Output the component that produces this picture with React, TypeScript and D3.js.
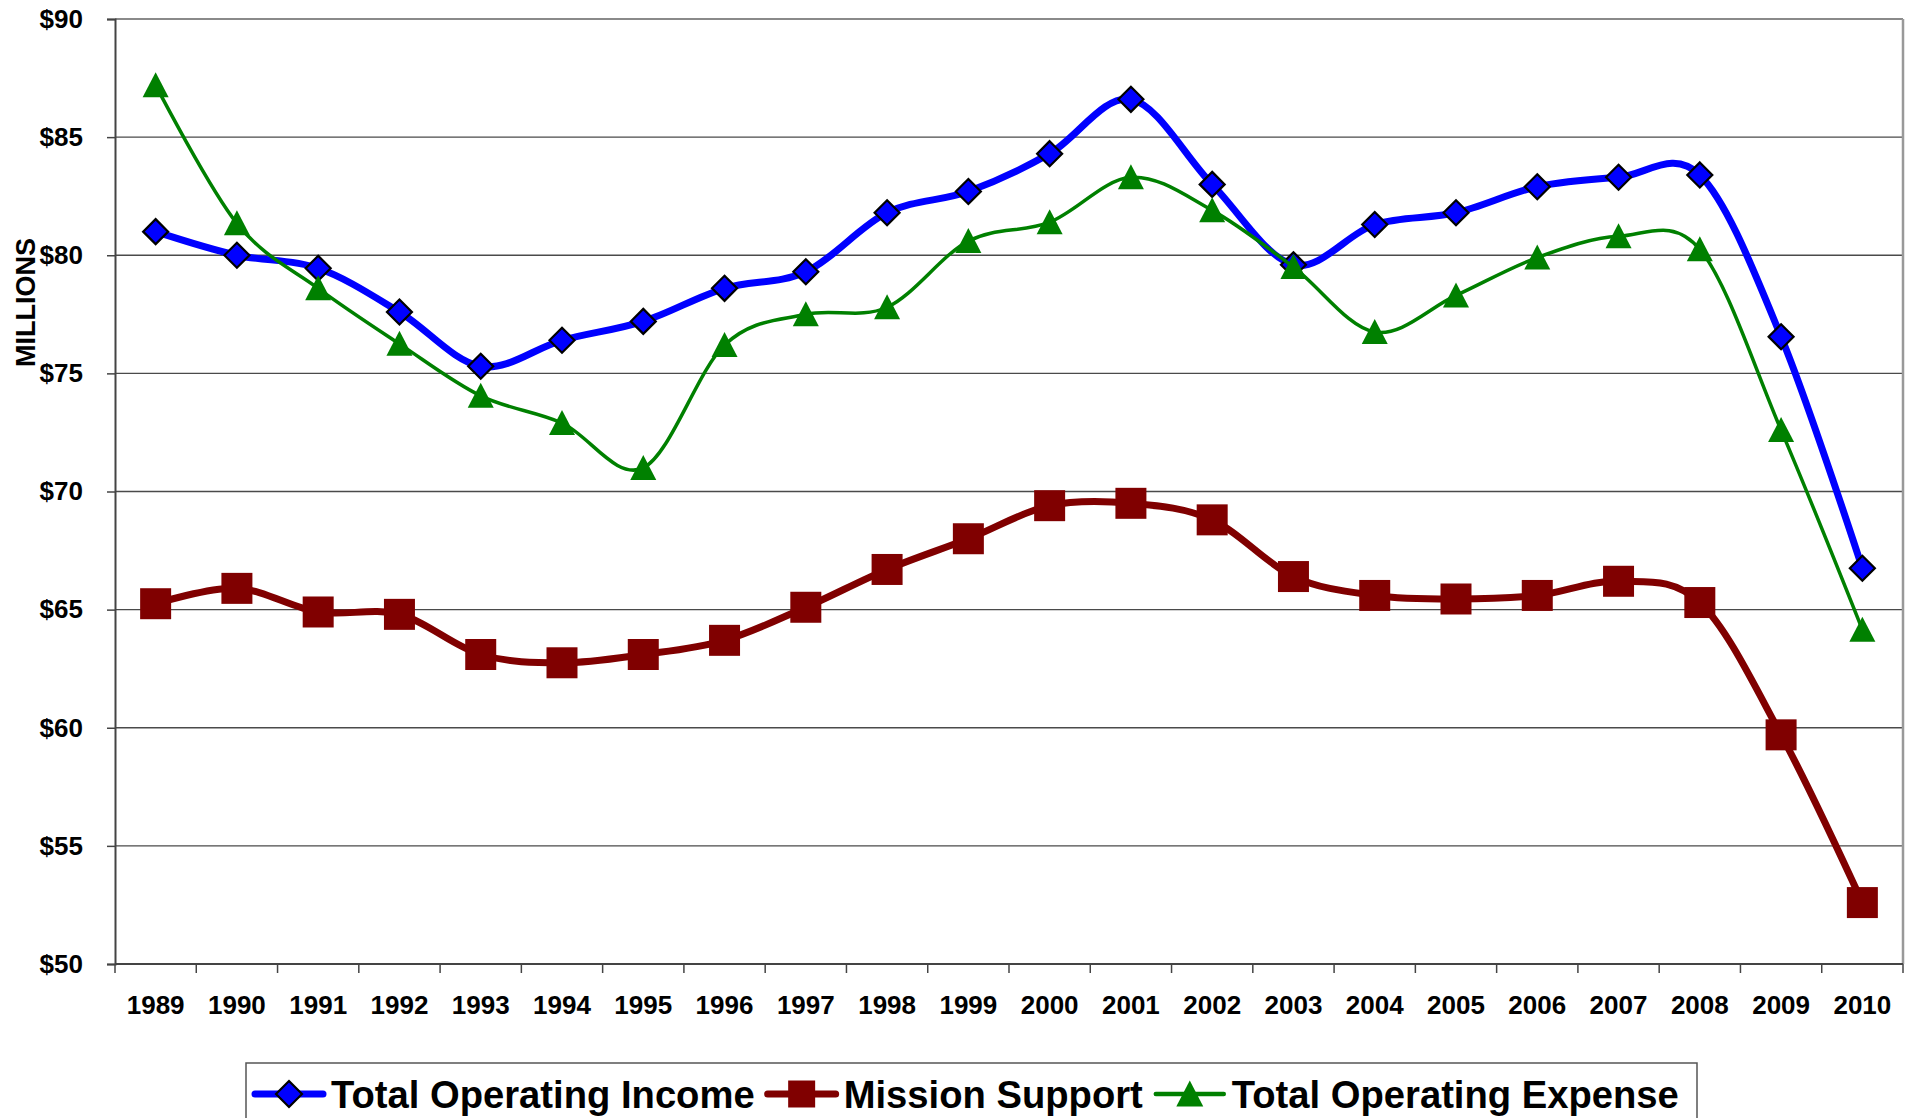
import React, { useEffect, useRef } from 'react'
import { select, scaleBand, scaleLinear, line, curveCardinal, axisBottom, axisLeft } from 'd3'

// chart values
const years = ['1989', '1990', '1991', '1992', '1993', '1994', '1995', '1996', '1997', '1998', '1999',
  '2000', '2001', '2002', '2003', '2004', '2005', '2006', '2007', '2008', '2009', '2010']
const incomeValues = [81.0, 80.0, 79.45, 77.6, 75.3, 76.4, 77.2, 78.6, 79.3, 81.8, 82.7,
  84.3, 86.6, 83.0, 79.6, 81.3, 81.8, 82.9, 83.3, 83.4, 76.55, 66.75]
const missionValues = [65.25, 65.9, 64.9, 64.8, 63.1, 62.75, 63.1, 63.7, 65.1, 66.7, 68.0,
  69.4, 69.5, 68.8, 66.4, 65.6, 65.45, 65.6, 66.2, 65.3, 59.7, 52.6]
const expenseValues = [87.2, 81.35, 78.6, 76.25, 74.05, 72.9, 71.0, 76.2, 77.5, 77.8, 80.6,
  81.4, 83.3, 81.9, 79.5, 76.75, 78.3, 79.9, 80.8, 80.25, 72.6, 64.15]
const yTicks = [50, 55, 60, 65, 70, 75, 80, 85, 90]
const seriesNames = ['Total Operating Income', 'Mission Support', 'Total Operating Expense']

const FONT = "'Liberation Sans', Arial, Helvetica, sans-serif"

function App() {
  const ref = useRef(null)

  useEffect(() => {
    document.body.style.margin = '0'
    const W = 1921, H = 1118
    const margin = { top: 19, right: 18, bottom: 154, left: 115 }
    const width = W - margin.left - margin.right
    const height = H - margin.top - margin.bottom

    const root = select(ref.current)
    root.selectAll('*').remove()
    const svg = root.append('svg')
      .attr('width', W)
      .attr('height', H)
      .style('display', 'block')
      .style('font-family', FONT)

    svg.append('rect').attr('width', W).attr('height', H).attr('fill', '#fff')

    const g = svg.append('g').attr('transform', `translate(${margin.left},${margin.top})`)

    const x = scaleBand().domain(years).range([0, width])
    const y = scaleLinear().domain([50, 90]).range([height, 0])
    const cx = (d) => x(d) + x.bandwidth() / 2

    // gridlines
    g.append('g').selectAll('line')
      .data(yTicks.slice(1))
      .join('line')
      .attr('x1', 0).attr('x2', width)
      .attr('y1', d => y(d)).attr('y2', d => y(d))
      .attr('stroke', d => d === 90 ? '#8a8a8a' : '#4a4a4a')
      .attr('stroke-width', d => d === 90 ? 2 : 1.4)

    // right border
    g.append('line')
      .attr('x1', width).attr('x2', width)
      .attr('y1', 0).attr('y2', height)
      .attr('stroke', '#999').attr('stroke-width', 2.5)

    // y axis
    const yAxis = g.append('g')
      .call(axisLeft(y).tickValues(yTicks).tickSize(8).tickPadding(24).tickFormat(d => `$${d}`))
    yAxis.select('.domain').attr('stroke', '#444').attr('stroke-width', 2)
    yAxis.selectAll('.tick line').attr('stroke', '#444').attr('stroke-width', 1.5)
    yAxis.selectAll('text')
      .attr('font-size', 26).attr('font-weight', 'bold').attr('fill', '#000')
      .attr('font-family', FONT)

    // x axis with ticks on the category boundaries
    const xAxis = g.append('g')
      .attr('transform', `translate(0,${height})`)
      .call(axisBottom(x).tickSize(0).tickPadding(32))
    xAxis.select('.domain').remove()
    xAxis.selectAll('text')
      .attr('font-size', 26).attr('font-weight', 'bold').attr('fill', '#000')
      .attr('font-family', FONT)
    g.append('line')
      .attr('x1', 0).attr('x2', width)
      .attr('y1', height).attr('y2', height)
      .attr('stroke', '#444').attr('stroke-width', 2)
    g.append('g').selectAll('line')
      .data(years.concat(['end']))
      .join('line')
      .attr('x1', (d, i) => i * x.step()).attr('x2', (d, i) => i * x.step())
      .attr('y1', height).attr('y2', height + 9)
      .attr('stroke', '#444').attr('stroke-width', 1.5)

    // axis title
    svg.append('text')
      .attr('transform', `translate(35,${margin.top + y(78)}) rotate(-90)`)
      .attr('text-anchor', 'middle')
      .attr('font-size', 27).attr('font-weight', 'bold')
      .text('MILLIONS')

    // marker shapes
    const diamond = (s) => `M0,${-s}L${s},0L0,${s}L${-s},0Z`
    const square = (s) => `M${-s},${-s}H${s}V${s}H${-s}Z`
    const triangle = (s) => `M0,${-s}L${s},${s - 1}L${-s},${s - 1}Z`

    const series = [
      { name: seriesNames[0], values: incomeValues, color: '#0000ff', lw: 7, shape: diamond(12.5), mfill: '#0000ff', mstroke: '#000', msw: 2.2, legLw: 7, legShape: diamond(13) },
      { name: seriesNames[1], values: missionValues, color: '#800000', lw: 7, shape: square(15.5), mfill: '#800000', mstroke: 'none', msw: 0, legLw: 7, legShape: square(13.5) },
      { name: seriesNames[2], values: expenseValues, color: '#008000', lw: 3.5, shape: triangle(13), mfill: '#008000', mstroke: 'none', msw: 0, legLw: 4.5, legShape: triangle(13.5) },
    ]

    const lineGen = line()
      .x(d => cx(d.year))
      .y(d => y(d.value))
      .curve(curveCardinal.tension(0))

    series.forEach(s => {
      const pts = years.map((yr, i) => ({ year: yr, value: s.values[i] }))
      g.append('path')
        .datum(pts)
        .attr('fill', 'none')
        .attr('stroke', s.color)
        .attr('stroke-width', s.lw)
        .attr('stroke-linejoin', 'round')
        .attr('d', lineGen)
      g.append('g').selectAll('path')
        .data(pts)
        .join('path')
        .attr('transform', d => `translate(${cx(d.year)},${y(d.value)})`)
        .attr('d', s.shape)
        .attr('fill', s.mfill)
        .attr('stroke', s.mstroke)
        .attr('stroke-width', s.msw)
    })

    // legend
    const legend = svg.append('g')
    legend.append('rect')
      .attr('x', 246).attr('y', 1063)
      .attr('width', 1451).attr('height', 80)
      .attr('fill', '#fff')
      .attr('stroke', '#555').attr('stroke-width', 1.5)

    let lx = 255
    const ly = 1094
    series.forEach(s => {
      const item = legend.append('g').attr('transform', `translate(${lx},${ly})`)
      item.append('line')
        .attr('x1', 0).attr('x2', 68)
        .attr('stroke', s.color).attr('stroke-width', s.legLw)
        .attr('stroke-linecap', 'round')
      item.append('path')
        .attr('transform', 'translate(34,0)')
        .attr('d', s.legShape)
        .attr('fill', s.mfill)
        .attr('stroke', s.mstroke)
        .attr('stroke-width', s.msw)
      const t = item.append('text')
        .attr('x', 76)
        .attr('dy', '0.36em')
        .attr('font-size', 38.2).attr('font-weight', 'bold')
        .text(s.name)
      const len = t.node().getComputedTextLength()
      lx += 76 + len + 13
    })
  }, [])

  return <div ref={ref}></div>
}

export default App
